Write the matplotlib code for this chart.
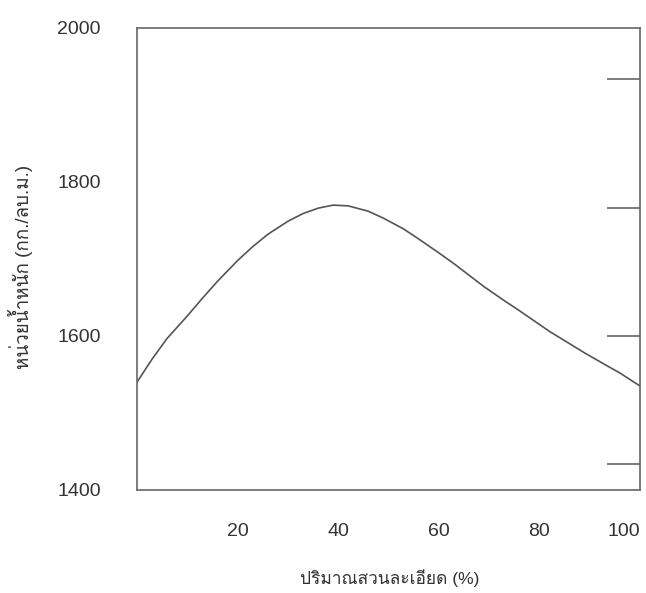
import matplotlib
matplotlib.use("Agg")
import matplotlib.pyplot as plt
from matplotlib import font_manager
from matplotlib.ft2font import FT2Font

# fine fraction (%) vs unit weight (kg/m3)
fines = [0, 3, 6, 10, 13, 16, 20, 23, 26, 30, 33, 36, 39, 42, 46, 49,
         53, 56, 60, 63, 66, 69, 73, 76, 80, 82, 86, 89, 93, 96, 100]
weight = [1540, 1570, 1597, 1626, 1649, 1671, 1698, 1716, 1732, 1749,
          1759, 1766, 1770, 1769, 1762, 1753, 1739, 1726, 1708, 1694,
          1679, 1664, 1646, 1633, 1615, 1606, 1590, 1578, 1563, 1552, 1535]

xticks = [20, 40, 60, 80, 100]
xmarks = [20, 40, 60, 80]
yticks = [1400, 1600, 1800, 2000]
ymarks = [1600, 1800]
right_marks = [1434, 1600, 1766, 1934]

xlabel = "ปริมาณสวนละเอียด (%)"
ylabel = "หน่วยน้ำหนัก (กก./ลบ.ม.)"

# look for any installed font that has thai letters
thai = []
for f in font_manager.fontManager.ttflist:
    try:
        cm = FT2Font(f.fname).get_charmap()
    except Exception:
        continue
    if 0x0E01 in cm and 0x0E13 in cm and f.name not in thai:
        thai.append(f.name)

plt.rcParams['font.family'] = ['Liberation Sans'] + thai + ['DejaVu Sans']

fig = plt.figure(figsize=(6.46, 5.93), dpi=100)
ax = fig.add_axes([137/646, 1 - 490/593, (640-137)/646, (490-28)/593])

ax.plot(fines, weight, color='#555555', lw=1.2)
ax.set_xlim(0, 100)
ax.set_ylim(1400, 2000)

for s in ax.spines.values():
    s.set_color('#666666')
    s.set_linewidth(1.2)

# labels without marks, marks put on as minor ticks
ax.set_xticks(xticks)
ax.set_yticks(yticks)
ax.tick_params(axis='both', which='major', length=0, labelsize=14, labelcolor='#333333')
ax.tick_params(axis='x', which='major', pad=24)
ax.tick_params(axis='y', which='major', pad=26)
ax.get_xticklabels()[-1].set_horizontalalignment('right')
ax.set_xticks(xmarks, minor=True)
ax.set_yticks(ymarks, minor=True)
ax.tick_params(axis='x', which='minor', direction='in', length=32, width=1.2, color='#666666')
ax.tick_params(axis='y', which='minor', direction='in', length=24, width=1.2, color='#666666')

ax2 = ax.twinx()
ax2.set_ylim(1400, 2000)
ax2.set_yticks(right_marks)
ax2.set_yticklabels([])
ax2.tick_params(axis='y', direction='in', length=24, width=1.2, color='#666666')
for s in ax2.spines.values():
    s.set_visible(False)

fig.text(390/646, 1 - 578/593, xlabel, fontsize=12.5, color='#333333', ha='center', va='center')
fig.text(20/646, 1 - 267/593, ylabel, fontsize=13.5, color='#333333', ha='center', va='center',
         rotation=90)

fig.savefig("out.png", dpi=100)
